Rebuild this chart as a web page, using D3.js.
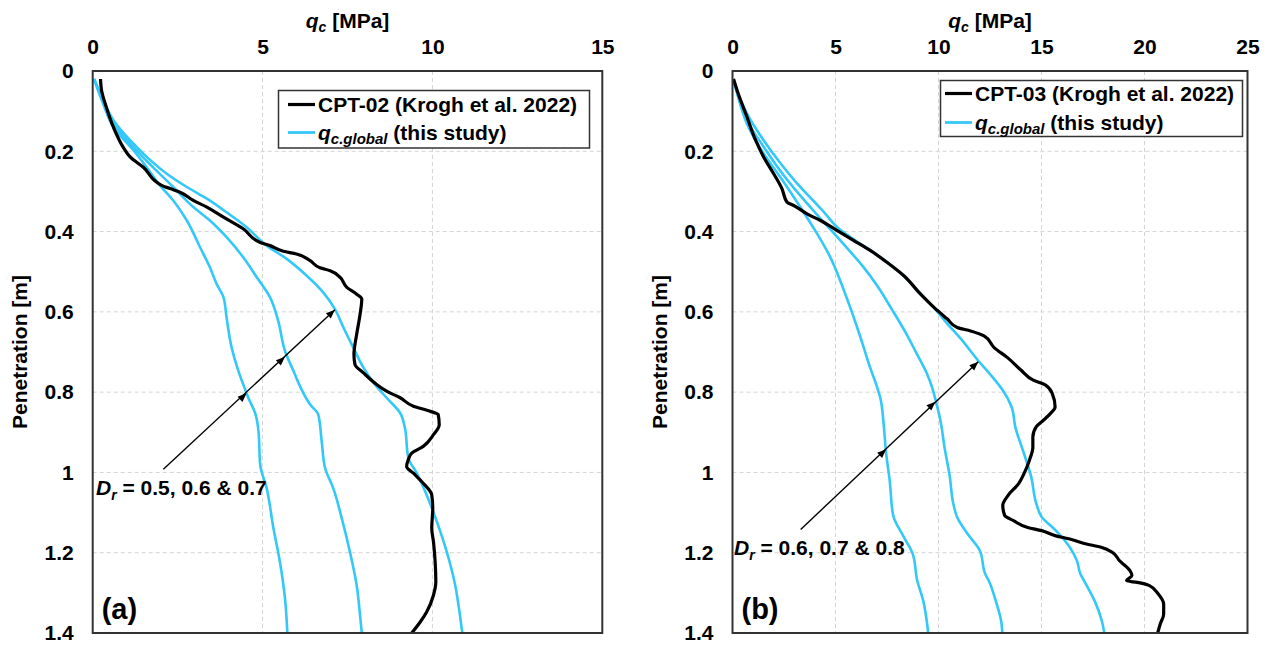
<!DOCTYPE html>
<html><head><meta charset="utf-8">
<script src="https://cdn.jsdelivr.net/npm/d3@7"></script>
<style>
body{margin:0;background:#fff}
svg{display:block}
text{font-family:"Liberation Sans",Arial,sans-serif;font-weight:bold;fill:#000}
</style>
</head><body>
<svg id="chart" width="1273" height="647"></svg>
<script>
// ---------- data ----------
const depthTicks = [0, 0.2, 0.4, 0.6, 0.8, 1, 1.2, 1.4];
const depthTickLabels = ["0", "0.2", "0.4", "0.6", "0.8", "1", "1.2", "1.4"];
const qcTicksA = [0, 5, 10, 15];
const qcTicksB = [0, 5, 10, 15, 20, 25];

// panel (a): [qc MPa, depth m]
const cpt02 = [[0.23,0.02],[0.26,0.048],[0.4,0.09],[0.61,0.14],[0.9,0.19],[1.1,0.214],[1.49,0.24],[2.03,0.285],[2.28,0.293],[2.57,0.302],[2.96,0.3225],[3.36,0.339],[3.85,0.364],[4.43,0.393],[4.93,0.427],[5.22,0.435],[5.61,0.449],[6.0,0.456],[6.4,0.4725],[6.69,0.49],[6.99,0.4975],[7.28,0.514],[7.48,0.539],[7.77,0.556],[7.92,0.568],[7.87,0.606],[7.77,0.656],[7.69,0.706],[7.72,0.731],[7.97,0.752],[8.36,0.781],[8.65,0.7975],[9.05,0.814],[9.44,0.835],[9.93,0.8475],[10.17,0.856],[10.2,0.881],[10.03,0.906],[9.73,0.935],[9.39,0.952],[9.29,0.968],[9.24,0.985],[9.44,1.002],[9.73,1.027],[9.98,1.056],[10.01,1.089],[9.98,1.139],[10.03,1.1725],[10.08,1.2225],[10.1,1.2725],[10.03,1.306],[9.83,1.3475],[9.64,1.3725],[9.39,1.4]];
const globalA_Dr05 = [[0.04,0.02],[0.3,0.08],[0.61,0.14],[1.2,0.1975],[1.59,0.24],[1.98,0.285],[2.37,0.3225],[2.77,0.3725],[3.16,0.439],[3.45,0.489],[3.65,0.531],[3.85,0.564],[3.94,0.614],[4.09,0.689],[4.29,0.7475],[4.45,0.785],[4.58,0.814],[4.78,0.852],[4.88,0.8975],[4.93,0.981],[5.12,1.039],[5.32,1.139],[5.51,1.2225],[5.66,1.314],[5.73,1.4]];
const globalA_Dr06 = [[0.04,0.02],[0.3,0.075],[0.61,0.13],[1.2,0.19],[1.78,0.24],[2.37,0.289],[2.96,0.339],[3.45,0.3725],[3.94,0.414],[4.43,0.464],[4.83,0.514],[5.22,0.564],[5.46,0.6225],[5.66,0.6975],[5.91,0.7475],[6.1,0.785],[6.4,0.831],[6.64,0.856],[6.74,0.9225],[6.84,0.989],[7.08,1.039],[7.33,1.114],[7.57,1.1975],[7.77,1.281],[7.87,1.356],[7.92,1.4]];
const globalA_Dr07 = [[0.04,0.02],[0.3,0.07],[0.61,0.1225],[1.1,0.1725],[1.59,0.214],[2.18,0.256],[2.77,0.289],[3.36,0.318],[3.94,0.352],[4.53,0.389],[5.12,0.435],[5.71,0.468],[6.3,0.51],[6.79,0.552],[7.13,0.593],[7.38,0.639],[7.67,0.689],[7.97,0.739],[8.3,0.78],[8.65,0.814],[9.05,0.852],[9.19,0.889],[9.29,0.964],[9.54,1.002],[9.83,1.056],[10.13,1.1225],[10.42,1.1975],[10.67,1.281],[10.81,1.356],[10.88,1.4]];

// panel (b)
const cpt03 = [[0.05,0.02],[0.3,0.06],[0.7,0.114],[1.1,0.17],[1.51,0.214],[2.0,0.256],[2.4,0.293],[2.65,0.327],[2.97,0.335],[3.62,0.356],[4.27,0.3725],[5.08,0.3975],[5.89,0.4225],[6.7,0.4475],[7.51,0.477],[8.32,0.51],[9.13,0.556],[9.78,0.589],[10.43,0.618],[10.91,0.639],[11.56,0.6475],[12.21,0.66],[12.7,0.689],[13.35,0.714],[14.0,0.745],[14.6,0.77],[15.18,0.782],[15.52,0.803],[15.66,0.837],[15.44,0.853],[15.09,0.87],[14.75,0.886],[14.58,0.912],[14.58,0.937],[14.41,0.97],[14.15,1.003],[13.89,1.028],[13.38,1.057],[13.12,1.082],[13.21,1.107],[13.64,1.12],[14.33,1.137],[15.01,1.145],[15.7,1.158],[16.38,1.166],[17.07,1.177],[17.93,1.187],[18.44,1.199],[18.79,1.22],[19.3,1.245],[19.39,1.257],[19.13,1.27],[19.65,1.274],[20.24,1.282],[20.67,1.303],[20.93,1.328],[20.93,1.353],[20.76,1.378],[20.64,1.4]];
const globalB_Dr06 = [[0.04,0.02],[0.3,0.07],[0.69,0.13],[1.5,0.205],[2.3,0.263],[3.28,0.338],[4.09,0.404],[4.74,0.463],[5.22,0.521],[5.7,0.587],[6.04,0.637],[6.36,0.687],[6.67,0.737],[6.97,0.78],[7.2,0.82],[7.32,0.87],[7.46,0.953],[7.63,1.02],[7.8,1.107],[8.32,1.161],[8.75,1.203],[8.97,1.27],[9.26,1.32],[9.43,1.37],[9.5,1.4]];
const globalB_Dr07 = [[0.04,0.02],[0.3,0.065],[0.69,0.122],[1.5,0.188],[2.3,0.247],[3.2,0.305],[4.05,0.355],[4.85,0.4],[5.65,0.446],[6.35,0.488],[7.05,0.537],[7.75,0.595],[8.42,0.653],[8.93,0.703],[9.43,0.753],[9.7,0.79],[9.86,0.82],[10.12,0.878],[10.29,0.937],[10.55,1.011],[10.72,1.078],[10.9,1.111],[11.41,1.153],[12.01,1.195],[12.27,1.253],[12.44,1.27],[12.78,1.32],[13.04,1.37],[13.1,1.4]];
const globalB_Dr08 = [[0.04,0.02],[0.3,0.06],[0.69,0.105],[1.5,0.172],[2.3,0.228],[3.1,0.278],[3.9,0.322],[4.5,0.355],[5.1,0.39],[5.9,0.42],[6.7,0.447],[7.5,0.476],[8.3,0.51],[9.1,0.553],[9.75,0.588],[10.4,0.628],[11.1,0.668],[11.9,0.72],[12.5,0.755],[12.9,0.78],[13.12,0.795],[13.55,0.837],[13.73,0.887],[14.15,0.953],[14.5,1.011],[14.75,1.078],[15.01,1.111],[15.7,1.145],[16.38,1.187],[16.72,1.22],[16.89,1.253],[17.07,1.27],[17.58,1.32],[17.93,1.37],[18.05,1.4]];

// annotation arrows: [qc, depth] start, arrowheads on curves, tip
const arrowA = [[2.08,0.992],[4.53,0.803],[5.66,0.712],[7.13,0.595]];
const arrowB = [[3.31,1.142],[7.46,0.942],[9.85,0.824],[11.93,0.724]];

const blue = "#33C8F8";
const svg = d3.select("#chart");

function panel(cfg){
  const x = d3.scaleLinear().domain([0, cfg.qmax]).range([cfg.left, cfg.right]);
  const y = d3.scaleLinear().domain([0, 1.4]).range([71, 633]);
  const g = svg.append("g");

  // grid
  g.append("g").selectAll("line").data(cfg.qTicks.slice(1,-1)).join("line")
    .attr("x1", d=>x(d)).attr("x2", d=>x(d)).attr("y1", y(0)).attr("y2", y(1.4))
    .attr("stroke", "#d4d4d4").attr("stroke-width", 1).attr("stroke-dasharray", "4,3");
  g.append("g").selectAll("line").data(depthTicks.slice(1,-1)).join("line")
    .attr("y1", d=>y(d)).attr("y2", d=>y(d)).attr("x1", x(0)).attr("x2", x(cfg.qmax))
    .attr("stroke", "#d4d4d4").attr("stroke-width", 1).attr("stroke-dasharray", "4,3");

  // top axis
  const xa = g.append("g").attr("transform", `translate(0,${y(0)})`)
    .call(d3.axisTop(x).tickValues(cfg.qTicks).tickSize(0).tickPadding(17).tickFormat(d3.format("d")));
  xa.select(".domain").remove();
  xa.selectAll("text").attr("font-size", 21).attr("font-family", null);
  // left axis
  const ya = g.append("g").attr("transform", `translate(${x(0)},0)`)
    .call(d3.axisLeft(y).tickValues(depthTicks).tickSize(0).tickPadding(19)
      .tickFormat((d,i)=>depthTickLabels[i]));
  ya.select(".domain").remove();
  ya.selectAll("text").attr("font-size", 21).attr("font-family", null);

  // axis titles
  const t = g.append("text").attr("x", (cfg.left+cfg.right)/2).attr("y", 28)
    .attr("text-anchor", "middle").attr("font-size", 21);
  t.append("tspan").text("q").attr("font-style", "italic");
  t.append("tspan").text("c").attr("font-style", "italic").attr("font-size", 14).attr("dy", 4);
  t.append("tspan").text(" [MPa]").attr("dy", -4);
  g.append("text").attr("transform", `translate(${cfg.left-66},${(y(0)+y(1.4))/2}) rotate(-90)`)
    .attr("text-anchor", "middle").attr("font-size", 21).text("Penetration [m]");

  // curves
  const line = d3.line().x(d=>x(d[0])).y(d=>y(d[1])).curve(d3.curveMonotoneY);
  cfg.globals.forEach(s=>{
    g.append("path").datum(s).attr("d", line).attr("fill","none")
      .attr("stroke", blue).attr("stroke-width", 2.6).attr("stroke-linejoin","round");
  });
  g.append("path").datum(cfg.cpt).attr("d", line).attr("fill","none")
    .attr("stroke", "#000").attr("stroke-width", 3.2).attr("stroke-linejoin","round");

  // frame
  g.append("rect").attr("x", x(0)).attr("y", y(0)).attr("width", x(cfg.qmax)-x(0)).attr("height", y(1.4)-y(0))
    .attr("fill","none").attr("stroke","#333").attr("stroke-width",2);

  // arrow annotation
  const a = cfg.arrow;
  const p0 = [x(a[0][0]), y(a[0][1])], p1 = [x(a[a.length-1][0]), y(a[a.length-1][1])];
  g.append("line").attr("x1", p0[0]).attr("y1", p0[1]).attr("x2", p1[0]).attr("y2", p1[1])
    .attr("stroke","#000").attr("stroke-width",1.4);
  const ang = Math.atan2(p1[1]-p0[1], p1[0]-p0[0]);
  a.slice(1).forEach(pt=>{
    const px = x(pt[0]), py = y(pt[1]);
    const L = 9, W = 3.6;
    const bx = px - L*Math.cos(ang), by = py - L*Math.sin(ang);
    const nx = -Math.sin(ang)*W, ny = Math.cos(ang)*W;
    g.append("path").attr("d", `M${px},${py}L${bx+nx},${by+ny}L${bx-nx},${by-ny}Z`).attr("fill","#000");
  });
  const dt = g.append("text").attr("x", cfg.drPos[0]).attr("y", cfg.drPos[1]).attr("font-size", 21);
  dt.append("tspan").text("D").attr("font-style","italic");
  dt.append("tspan").text("r").attr("font-style","italic").attr("font-size",14).attr("dy",5);
  dt.append("tspan").text(" = " + cfg.drText).attr("dy",-5);

  // panel label
  g.append("text").attr("x", cfg.left+9).attr("y", 619).attr("font-size", 29).text(cfg.label);

  // legend
  const L = cfg.legend;
  g.append("rect").attr("x", L.x).attr("y", L.y).attr("width", L.w).attr("height", L.h)
    .attr("fill","#fff").attr("stroke","#333").attr("stroke-width",1.5);
  g.append("line").attr("x1", L.x+L.sx).attr("x2", L.x+L.sx+27).attr("y1", L.y+L.r1).attr("y2", L.y+L.r1)
    .attr("stroke","#000").attr("stroke-width",3.2);
  g.append("line").attr("x1", L.x+L.sx).attr("x2", L.x+L.sx+27).attr("y1", L.y+L.r2).attr("y2", L.y+L.r2)
    .attr("stroke",blue).attr("stroke-width",2.8);
  g.append("text").attr("x", L.x+L.tx).attr("y", L.y+L.r1+7).attr("font-size",21).text(cfg.cptName);
  const lt = g.append("text").attr("x", L.x+L.tx).attr("y", L.y+L.r2+7).attr("font-size",21);
  lt.append("tspan").text("q").attr("font-style","italic");
  lt.append("tspan").text("c.global").attr("font-style","italic").attr("font-size",15).attr("dy",4);
  lt.append("tspan").text(" (this study)").attr("dy",-4);
}

panel({left:92.7, right:602.3, qmax:15, qTicks:qcTicksA, cpt:cpt02,
  globals:[globalA_Dr05, globalA_Dr06, globalA_Dr07], arrow:arrowA,
  drPos:[96, 495], drText:"0.5, 0.6 & 0.7", label:"(a)", cptName:"CPT-02 (Krogh et al. 2022)",
  legend:{x:278.5, y:90.5, w:311, h:57.5, sx:9.5, tx:39.5, r1:14, r2:42}});
panel({left:732.5, right:1247.5, qmax:25, qTicks:qcTicksB, cpt:cpt03,
  globals:[globalB_Dr06, globalB_Dr07, globalB_Dr08], arrow:arrowB,
  drPos:[734, 555], drText:"0.6, 0.7 & 0.8", label:"(b)", cptName:"CPT-03 (Krogh et al. 2022)",
  legend:{x:940.5, y:80.5, w:302, h:56, sx:4.5, tx:34.5, r1:13, r2:42}});
</script>
</body></html>
